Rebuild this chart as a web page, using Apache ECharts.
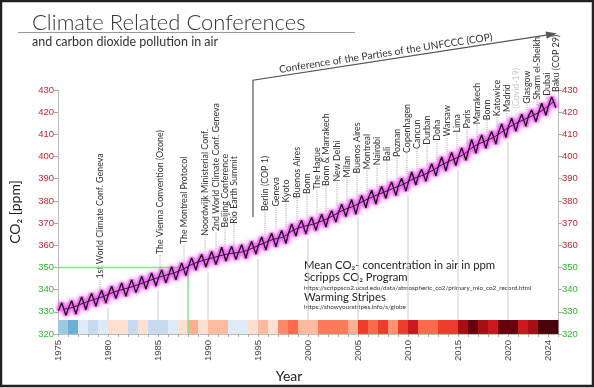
<!DOCTYPE html>
<html><head><meta charset="utf-8">
<script src="https://cdn.jsdelivr.net/npm/echarts@6/dist/echarts.min.js"></script>
<style>html,body{margin:0;padding:0;background:#fff}#c{width:594px;height:388px}</style>
</head><body><div id="c"></div>
<script>
// ---------- data ----------
const years = [1975,1976,1977,1978,1979,1980,1981,1982,1983,1984,
  1985,1986,1987,1988,1989,1990,1991,1992,1993,1994,
  1995,1996,1997,1998,1999,2000,2001,2002,2003,2004,
  2005,2006,2007,2008,2009,2010,2011,2012,2013,2014,
  2015,2016,2017,2018,2019,2020,2021,2022,2023,2024];
const annualMean = [331.11,332.04,333.83,335.40,336.84,338.75,340.11,341.45,343.05,344.65,
  346.12,347.42,349.19,351.57,353.12,354.39,355.61,356.45,357.10,358.83,
  360.82,362.61,363.73,366.70,368.38,369.55,371.14,373.28,375.80,377.52,
  379.80,381.90,383.79,385.60,387.43,389.90,391.65,393.85,396.52,398.65,
  400.83,404.24,406.55,408.52,411.44,414.24,416.45,418.56,421.08,424.61];
const janCO2 = [330.4,331.6,332.9,334.9,336.2,337.9,339.2,340.6,341.5,343.8,
  345.2,346.3,348.0,350.4,352.8,353.5,354.6,355.9,356.7,358.3,
  359.9,362.0,363.2,365.3,368.2,369.1,370.3,372.4,374.7,376.8,
  378.4,381.3,382.9,385.4,386.9,388.5,391.3,393.1,395.6,397.8,
  399.9,402.6,406.1,407.9,410.8,413.4,415.5,418.2,419.5,422.8];
const mayCO2 = [334.1,335.0,336.7,338.3,339.7,341.5,343.0,344.4,346.0,347.5,
  348.9,350.3,352.0,354.3,355.9,357.2,359.1,359.5,360.2,361.7,
  363.7,365.4,366.7,369.6,371.2,372.5,374.0,375.6,378.5,380.6,
  382.5,384.8,386.5,388.5,390.2,393.0,394.2,396.8,399.8,401.9,
  403.9,407.7,409.7,411.3,414.7,417.3,419.1,421.0,424.0,426.9];
const octCO2 = [328.4,329.0,330.9,332.5,333.9,336.0,337.0,338.7,340.3,341.6,
  343.1,344.4,346.3,348.8,350.2,351.3,352.9,353.6,354.1,356.0,
  357.8,359.3,360.8,364.1,365.1,366.7,368.2,370.4,372.9,374.0,
  376.9,378.6,381.1,382.4,384.4,387.2,388.8,391.3,393.5,395.9,
  398.3,401.4,403.7,405.6,408.5,411.4,413.6,415.7,418.6,422.0];
const stripeColors = ['#9ecae1','#6baed6','#deebf7','#c6dbef','#deebf7','#fee0d2','#fee0d2','#c6dbef','#fee0d2','#c6dbef',
  '#c6dbef','#deebf7','#fee0d2','#fcae91','#fee0d2','#fcbba1','#fcbba1','#deebf7','#deebf7','#fee0d2',
  '#fcbba1','#fee0d2','#fc8a6a','#fb6a4a','#fcbba1','#fcbba1','#fb7a5a','#fb7a5a','#fb7a5a','#fcae91',
  '#ef3b2c','#fb6a4a','#ef3b2c','#fc9272','#ef3b2c','#cb181d','#fb6a4a','#fb6a4a','#ef3b2c','#ef3b2c',
  '#a50f15','#67000d','#a50f15','#cb181d','#67000d','#67000d','#cb181d','#a50f15','#4a0008','#4a0008'];
const eventNames = ['1st World Climate Conf. Geneva','The Vienna Convention (Ozone)','The Montreal Protocol',
  'Noordwijk Ministerial Conf.','2nd World Climate Conf. Geneva','Beijing Conference','Rio Earth Summit',
  'Berlin (COP 1)','Geneva','Kyoto','Buenos Aires','Bonn','The Hague','Bonn & Marrakech','New Delhi','Milan',
  'Buenos Aires','Montreal','Nairobi','Bali','Poznan','Copenhagen','Cancun','Durban','Doha','Warsaw','Lima',
  'Paris','Marrakech','Bonn','Katowice','Madrid','(Covid-19)','Glasgow','Sharm el-Sheikh','Dubai','Baku (COP 29)'];
const eventYears = [1979.2,1985.2,1987.6,1989.7,1990.8,1991.7,1992.6,
  1995.7,1996.8,1997.8,1998.9,1999.9,2000.9,2001.8,2002.9,2003.9,
  2004.9,2005.9,2006.9,2007.9,2008.9,2009.9,2010.9,2011.9,2012.9,2013.9,2014.9,
  2015.9,2016.9,2017.9,2018.9,2019.9,2020.8,2021.9,2022.9,2023.9,2024.8];
const xTickLabels = [1975,1980,1985,1990,1995,2000,2005,2010,2015,2020,2024];
const gridYears = [1980,1985,1990,1995,2000,2005,2010,2015,2020];
const thresholdPpm = 350, thresholdYear = 1988;

// ---------- layout constants ----------
const STRIPE_TOP = 326.3;
const FONT = 'Lato, "Open Sans", sans-serif';

// ---------- helpers ----------
const seasonal = [];
years.forEach((y, i) => {
  seasonal.push([y + 0.04, janCO2[i]], [y + 0.37, mayCO2[i]], [y + 0.79, octCO2[i]]);
});
const trendPts = years.map((y, i) => [y + 0.5, annualMean[i]]);
function trendAt(t) {
  if (t <= trendPts[0][0]) return trendPts[0][1] + (t - trendPts[0][0]) * (trendPts[1][1] - trendPts[0][1]);
  for (let i = 1; i < trendPts.length; i++) {
    if (t <= trendPts[i][0]) {
      const a = trendPts[i - 1], b = trendPts[i];
      return a[1] + (b[1] - a[1]) * (t - a[0]) / (b[0] - a[0]);
    }
  }
  const n = trendPts.length;
  return trendPts[n - 1][1] + (t - trendPts[n - 1][0]) * (trendPts[n - 1][1] - trendPts[n - 2][1]);
}
// label start line (layout rule)
function labelAnchor(t) { return 344.7 + (t - 1979.3) * 1.845; }

const labelColor = v => (v <= 350 ? '#2cb52c' : '#c4262b');
const yAxisBase = (pos) => ({
  type: 'value', min: 320, max: 430, interval: 10, position: pos,
  axisLine: { show: true, lineStyle: { color: '#bbb' } },
  axisTick: { show: true, length: 4, lineStyle: { color: '#aaa' } },
  axisLabel: { fontSize: 9.5, fontFamily: 'Liberation Sans', color: labelColor, margin: 4 },
  splitLine: { show: false }
});

const chart = echarts.init(document.getElementById('c'), null, { renderer: 'canvas' });
const option = {
  animation: false,
  grid: { left: 57, right: 36, top: 90, bottom: 50 },
  xAxis: {
    type: 'value', min: 1975, max: 2025,
    name: 'Year', nameLocation: 'middle', nameGap: 30,
    nameTextStyle: { fontSize: 14, color: '#222', fontFamily: FONT, padding: [0, 38, 0, 0] },
    axisLine: { show: true, lineStyle: { color: '#bbb' } },
    axisTick: { show: true, customValues: years.concat([2025]), length: 3, lineStyle: { color: '#aaa' } },
    axisLabel: { customValues: xTickLabels, formatter: v => String(v), rotate: 90, fontSize: 9.5, color: '#444', fontFamily: 'Liberation Sans', margin: 6 },
    splitLine: { show: false }
  },
  yAxis: [
    Object.assign(yAxisBase('left'), {
      name: 'CO₂ [ppm]', nameLocation: 'middle', nameGap: 36,
      nameTextStyle: { fontSize: 14, color: '#222', fontFamily: FONT }
    }),
    yAxisBase('right')
  ],
  series: [
    { // warming stripes
      type: 'custom', silent: true,
      data: years.map(y => [y, 320]),
      renderItem: (params, api) => {
        const y = api.value(0);
        const p0 = api.coord([y, 320]);
        const p1 = api.coord([y + 1, STRIPE_TOP]);
        return { type: 'rect', shape: { x: p0[0], y: p1[1], width: p1[0] - p0[0] + 0.4, height: p0[1] - p1[1] },
          style: { fill: stripeColors[params.dataIndex] } };
      }
    },
    { // grid lines under curve
      type: 'custom', silent: true,
      data: gridYears.map(y => [y, trendAt(y)]),
      renderItem: (params, api) => {
        const y = api.value(0);
        const p0 = api.coord([y, STRIPE_TOP]);
        const p1 = api.coord([y, api.value(1) - 6]);
        return { type: 'line', shape: { x1: p0[0], y1: p0[1], x2: p1[0], y2: p1[1] },
          style: { stroke: '#ccc', lineWidth: 1 } };
      }
    },
    { // 350 ppm marker
      type: 'line', silent: true, symbol: 'none',
      data: [[1975, thresholdPpm], [thresholdYear, thresholdPpm], [thresholdYear, 320]],
      lineStyle: { color: '#86e886', width: 1.5 }
    },
    { // glow
      type: 'line', silent: true, symbol: 'none', data: seasonal,
      lineStyle: { color: 'rgba(255,90,255,0.6)', width: 5, shadowBlur: 4, shadowColor: '#ff00ff' }
    },
    { // seasonal black
      type: 'line', silent: true, symbol: 'none', data: seasonal,
      lineStyle: { color: '#111', width: 1.3 }
    },
    { // trend
      type: 'line', silent: true, symbol: 'none', smooth: true, data: trendPts,
      lineStyle: { color: '#222', width: 1 }
    },
    { // events
      type: 'custom', silent: true, clip: false,
      data: eventYears.map((t, i) => [t, trendAt(t), i]),
      renderItem: (params, api) => {
        const t = api.value(0), tr = api.value(1);
        const i = params.dataIndex;
        const pc = api.coord([t, tr + 3.6]);
        const pl = api.coord([t, labelAnchor(t)]);
        const covid = eventNames[i] === '(Covid-19)';
        return { type: 'group', children: [
          { type: 'line', shape: { x1: pc[0], y1: pc[1], x2: pc[0], y2: pl[1] - 1 },
            style: { stroke: covid ? '#ccc' : '#888', lineWidth: 0.8, lineDash: [1, 1.2] } },
          { type: 'text', x: pl[0], y: pl[1] - 1, rotation: Math.PI / 2,
            style: { text: eventNames[i], x: 0, y: 0, align: 'left', verticalAlign: 'middle',
              font: '8.9px ' + FONT, fill: covid ? '#c8c8c8' : '#333' } }
        ] };
      }
    }
  ]
};
chart.setOption(option);

// ---------- annotations ----------
const px = p => chart.convertToPixel({ xAxisIndex: 0, yAxisIndex: 0 }, p);
const aStart = px([1994.5, 372.7]);
const aCorner = px([1994.5, 434.4]);
const aTip = px([2024.9, 455.5]);
const dx = aTip[0] - aCorner[0], dy = aTip[1] - aCorner[1];
const len = Math.sqrt(dx * dx + dy * dy);
const ux = dx / len, uy = dy / len;
const ah = 11, aw = 3.6;
const base = [aTip[0] - ux * ah, aTip[1] - uy * ah];
const ang = Math.atan2(-dy, dx);
const tPos = [aCorner[0] + dx * 0.44 + uy * 1.5, aCorner[1] + dy * 0.44 - ux * 1.5];

chart.setOption({
  graphic: [
    { type: 'rect', shape: { x: 1, y: 1, width: 592, height: 385 }, style: { fill: 'none', stroke: '#222', lineWidth: 2.5 }, silent: true },
    { type: 'text', x: 32, y: 23, style: { text: 'Climate Related Conferences', font: '300 22px ' + FONT, fill: '#333', verticalAlign: 'middle' } },
    { type: 'line', shape: { x1: 18, y1: 32.5, x2: 355, y2: 32.5 }, style: { stroke: '#999', lineWidth: 1 } },
    { type: 'text', x: 32, y: 42, style: { text: 'and carbon dioxide pollution in air', font: '12.5px ' + FONT, fill: '#333', verticalAlign: 'middle' } },
    { type: 'polyline', shape: { points: [aStart, aCorner, base] }, style: { stroke: '#555', lineWidth: 1.2, fill: 'none' } },
    { type: 'polygon', shape: { points: [aTip, [base[0] + uy * aw, base[1] - ux * aw], [base[0] - uy * aw, base[1] + ux * aw]] }, style: { fill: '#555' } },
    { type: 'text', x: tPos[0], y: tPos[1], rotation: ang,
      style: { text: 'Conference of the Parties of the UNFCCC (COP)', font: '10.2px ' + FONT, fill: '#333', align: 'center', verticalAlign: 'bottom' } },
    { type: 'text', x: 304, y: 265, style: { text: 'Mean CO₂- concentration in air in ppm', font: '11.3px ' + FONT, fill: '#222', verticalAlign: 'middle' } },
    { type: 'text', x: 304, y: 277, style: { text: 'Scripps CO₂ Program', font: '11.3px ' + FONT, fill: '#222', verticalAlign: 'middle' } },
    { type: 'text', x: 304, y: 287.5, style: { text: 'https://scrippsco2.ucsd.edu/data/atmospheric_co2/primary_mlo_co2_record.html', font: '6.4px ' + FONT, fill: '#333', verticalAlign: 'middle' } },
    { type: 'text', x: 304, y: 297.5, style: { text: 'Warming Stripes', font: '11.3px ' + FONT, fill: '#222', verticalAlign: 'middle' } },
    { type: 'text', x: 304, y: 307, style: { text: 'https://showyourstripes.info/s/globe', font: '6.4px ' + FONT, fill: '#333', verticalAlign: 'middle' } }
  ]
});
</script></body></html>
